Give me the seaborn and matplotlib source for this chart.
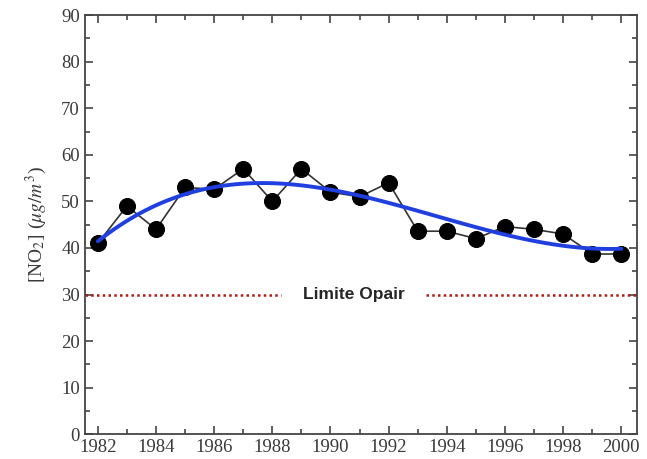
import pandas as pd, numpy as np
import matplotlib
matplotlib.use('Agg')
import matplotlib.pyplot as plt
import seaborn as sns
from matplotlib.ticker import MultipleLocator

# annual mean NO2 values
years = [1982, 1983, 1984, 1985, 1986, 1987, 1988, 1989, 1990, 1991,
         1992, 1993, 1994, 1995, 1996, 1997, 1998, 1999, 2000]
no2 = [41, 49, 44, 53, 52.6, 57, 50, 57, 52, 51,
       54, 43.6, 43.6, 42, 44.6, 44, 43, 38.7, 38.7]
limit_value = 30
limit_label = "Limite Opair"

df = pd.DataFrame({'year': years, 'no2': no2})

sns.set_style('ticks')
plt.rcParams['font.family'] = ['Liberation Serif', 'DejaVu Serif']
plt.rcParams['mathtext.fontset'] = 'stix'

fig = plt.figure(figsize=(6.47, 4.59), dpi=100)
ax = fig.add_axes([0.131, 0.054, 0.854, 0.913])

# limit line, broken around the label
ax.hlines(limit_value, 1981.55, 1988.3, colors='#b01a14', linestyles=(0, (1, 1.3)), lw=1.8)
ax.hlines(limit_value, 1993.3, 2000.55, colors='#b01a14', linestyles=(0, (1, 1.3)), lw=1.8)
ax.text(1990.8, limit_value, limit_label, ha='center', va='center',
        fontsize=12.5, fontweight='bold', family=['Liberation Sans', 'DejaVu Sans'])

# measured series
sns.lineplot(data=df, x='year', y='no2', ax=ax, color='#333333', lw=1.2,
             marker='o', markersize=11.5, markerfacecolor='black',
             markeredgecolor='black', zorder=3)
# polynomial trend
sns.regplot(data=df, x='year', y='no2', ax=ax, order=3, ci=None, scatter=False,
            truncate=True, line_kws={'color': '#1f3fe0', 'lw': 2.8, 'zorder': 4})

ax.set_xlim(1981.55, 2000.55)
ax.set_ylim(0, 90)
ax.xaxis.set_major_locator(MultipleLocator(2))
ax.xaxis.set_minor_locator(MultipleLocator(1))
ax.yaxis.set_major_locator(MultipleLocator(10))
ax.yaxis.set_minor_locator(MultipleLocator(5))
ax.tick_params(which='both', direction='in', top=True, right=True,
               labelsize=13.5, labelcolor='#3a3a3a', color='#444444')
ax.tick_params(which='major', length=6, width=1.2)
ax.tick_params(which='minor', length=3.5, width=1.2)
for s in ax.spines.values():
    s.set_color('#444444')
    s.set_linewidth(1.3)

ax.set_xlabel('')
ax.set_ylabel(r'[NO$_2$] ($\mu g/m^3$)', fontsize=14, color='#3a3a3a', labelpad=9)

plt.savefig('out.png', dpi=100)
